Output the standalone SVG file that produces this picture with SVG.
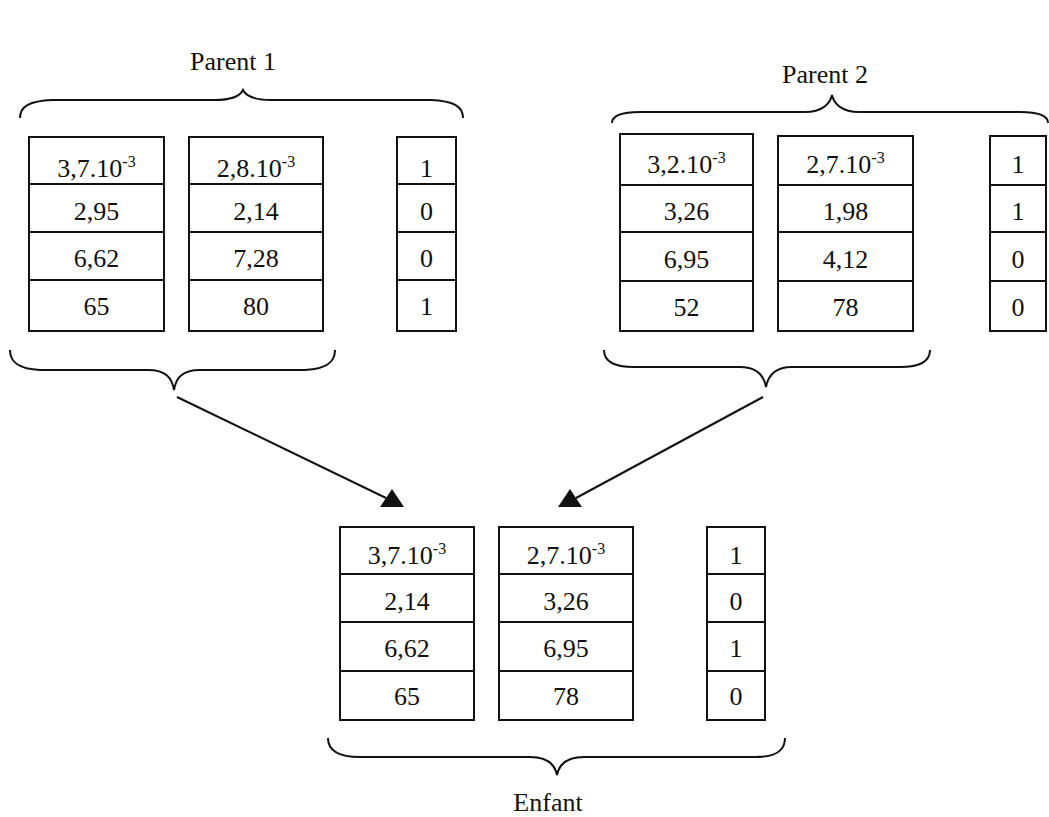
<svg xmlns="http://www.w3.org/2000/svg" width="1049" height="817" viewBox="0 0 1049 817">
<style>
.cell{fill:#fff;stroke:#111;stroke-width:2}
.t{font-family:"Liberation Serif","Times New Roman",serif;font-size:26px;fill:#111;text-anchor:middle}
.sup{font-size:16px}
.brace{fill:none;stroke:#111;stroke-width:2}
.conn{stroke:#111;stroke-width:2;fill:none}
</style>
<rect width="1049" height="817" fill="#fff"/>

<g id="parent1">
  <text class="t" x="233" y="70">Parent 1</text>
  <path class="brace" d="M20,118 C20,106 30,101 52,100 L215,100 C232,100 240,96 243,90 C246,96 254,100 271,100 L431,100 C453,101 463,106 463,118"/>
  <g id="p1-colA">
    <rect class="cell" x="29" y="137" width="135" height="47"/>
    <rect class="cell" x="29" y="184" width="135" height="48"/>
    <rect class="cell" x="29" y="232" width="135" height="48"/>
    <rect class="cell" x="29" y="280" width="135" height="51"/>
    <text class="t" x="96.5" y="177">3,7.10<tspan class="sup" dy="-10">-3</tspan></text>
    <text class="t" x="96.5" y="220">2,95</text>
    <text class="t" x="96.5" y="267">6,62</text>
    <text class="t" x="96.5" y="315">65</text>
  </g>
  <g id="p1-colB">
    <rect class="cell" x="189" y="137" width="134" height="47"/>
    <rect class="cell" x="189" y="184" width="134" height="48"/>
    <rect class="cell" x="189" y="232" width="134" height="48"/>
    <rect class="cell" x="189" y="280" width="134" height="51"/>
    <text class="t" x="256" y="177">2,8.10<tspan class="sup" dy="-10">-3</tspan></text>
    <text class="t" x="256" y="220">2,14</text>
    <text class="t" x="256" y="267">7,28</text>
    <text class="t" x="256" y="315">80</text>
  </g>
  <g id="p1-colC">
    <rect class="cell" x="397" y="137" width="59" height="47"/>
    <rect class="cell" x="397" y="184" width="59" height="48"/>
    <rect class="cell" x="397" y="232" width="59" height="48"/>
    <rect class="cell" x="397" y="280" width="59" height="51"/>
    <text class="t" x="426.5" y="177">1</text>
    <text class="t" x="426.5" y="220">0</text>
    <text class="t" x="426.5" y="267">0</text>
    <text class="t" x="426.5" y="315">1</text>
  </g>
  <path class="brace" d="M10,350 C10,362 18,369 40,370 L148,370 C166,370 172,378 174,390 C176,378 182,370 200,370 L305,370 C327,369 335,362 335,350"/>
</g>

<g id="parent2">
  <text class="t" x="825" y="83">Parent 2</text>
  <path class="brace" d="M612,123 C612,116 620,112 640,112 L805,112 C822,112 830,104 832,95 C834,104 842,112 859,112 L1020,112 C1040,112 1048,116 1048,123"/>
  <g id="p2-colA">
    <rect class="cell" x="620" y="134" width="133" height="51"/>
    <rect class="cell" x="620" y="185" width="133" height="47"/>
    <rect class="cell" x="620" y="232" width="133" height="49"/>
    <rect class="cell" x="620" y="281" width="133" height="50"/>
    <text class="t" x="686.5" y="173">3,2.10<tspan class="sup" dy="-10">-3</tspan></text>
    <text class="t" x="686.5" y="220">3,26</text>
    <text class="t" x="686.5" y="268">6,95</text>
    <text class="t" x="686.5" y="316">52</text>
  </g>
  <g id="p2-colB">
    <rect class="cell" x="778" y="136" width="135" height="49"/>
    <rect class="cell" x="778" y="185" width="135" height="47"/>
    <rect class="cell" x="778" y="232" width="135" height="49"/>
    <rect class="cell" x="778" y="281" width="135" height="50"/>
    <text class="t" x="845.5" y="173">2,7.10<tspan class="sup" dy="-10">-3</tspan></text>
    <text class="t" x="845.5" y="220">1,98</text>
    <text class="t" x="845.5" y="268">4,12</text>
    <text class="t" x="845.5" y="316">78</text>
  </g>
  <g id="p2-colC">
    <rect class="cell" x="990" y="136" width="56" height="49"/>
    <rect class="cell" x="990" y="185" width="56" height="47"/>
    <rect class="cell" x="990" y="232" width="56" height="49"/>
    <rect class="cell" x="990" y="281" width="56" height="50"/>
    <text class="t" x="1018" y="173">1</text>
    <text class="t" x="1018" y="220">1</text>
    <text class="t" x="1018" y="268">0</text>
    <text class="t" x="1018" y="316">0</text>
  </g>
  <path class="brace" d="M604,350 C604,360 612,367 634,367 L740,367 C758,367 764,376 766,387 C768,376 774,367 792,367 L900,367 C922,367 930,360 930,350"/>
</g>

<g id="connectors">
  <line class="conn" x1="177" y1="397" x2="386" y2="498"/>
  <polygon points="392,489 380,507 404,507" fill="#111"/>
  <line class="conn" x1="763" y1="397" x2="576" y2="498"/>
  <polygon points="570,489 558,507 582,507" fill="#111"/>
</g>

<g id="enfant">
  <g id="e-colA">
    <rect class="cell" x="340" y="527" width="134" height="47"/>
    <rect class="cell" x="340" y="574" width="134" height="48"/>
    <rect class="cell" x="340" y="622" width="134" height="49"/>
    <rect class="cell" x="340" y="671" width="134" height="49"/>
    <text class="t" x="407" y="564">3,7.10<tspan class="sup" dy="-10">-3</tspan></text>
    <text class="t" x="407" y="610">2,14</text>
    <text class="t" x="407" y="657">6,62</text>
    <text class="t" x="407" y="705">65</text>
  </g>
  <g id="e-colB">
    <rect class="cell" x="499" y="527" width="134" height="47"/>
    <rect class="cell" x="499" y="574" width="134" height="48"/>
    <rect class="cell" x="499" y="622" width="134" height="49"/>
    <rect class="cell" x="499" y="671" width="134" height="49"/>
    <text class="t" x="566" y="564">2,7.10<tspan class="sup" dy="-10">-3</tspan></text>
    <text class="t" x="566" y="610">3,26</text>
    <text class="t" x="566" y="657">6,95</text>
    <text class="t" x="566" y="705">78</text>
  </g>
  <g id="e-colC">
    <rect class="cell" x="707" y="527" width="58" height="47"/>
    <rect class="cell" x="707" y="574" width="58" height="48"/>
    <rect class="cell" x="707" y="622" width="58" height="49"/>
    <rect class="cell" x="707" y="671" width="58" height="49"/>
    <text class="t" x="736" y="564">1</text>
    <text class="t" x="736" y="610">0</text>
    <text class="t" x="736" y="657">1</text>
    <text class="t" x="736" y="705">0</text>
  </g>
  <path class="brace" d="M328,738 C328,750 338,757 360,757 L530,757 C548,757 555,765 557,775 C559,765 566,757 584,757 L755,757 C777,757 785,750 785,738"/>
  <text class="t" x="548" y="811">Enfant</text>
</g>
</svg>
